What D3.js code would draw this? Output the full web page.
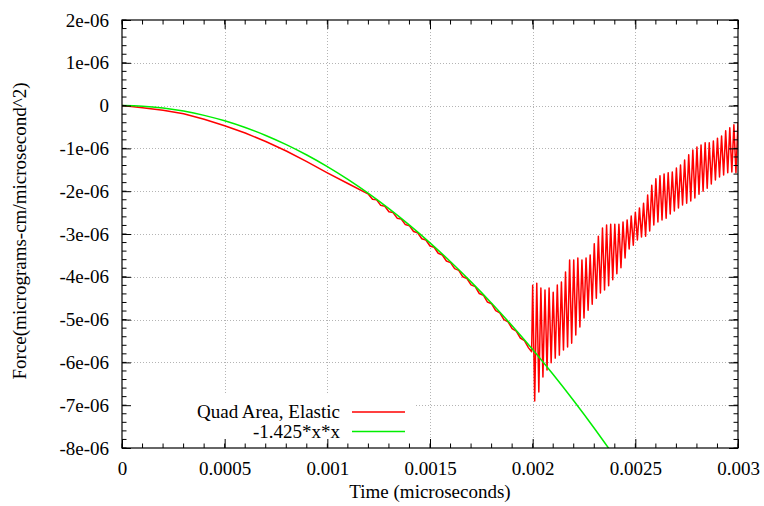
<!DOCTYPE html>
<html>
<head>
<meta charset="utf-8">
<script src="https://cdn.jsdelivr.net/npm/d3@7"></script>
<style>
  body { margin: 0; background: #fff; }
  svg text { font-family: "Liberation Serif", "Times New Roman", Times, "DejaVu Serif", serif; }
</style>
</head>
<body>
<div id="chart"></div>
<script>
// time in units of 1e-3 microseconds, force in units of 1e-6
const xTicks = [0, 0.5, 1, 1.5, 2, 2.5, 3];
const xTickLabels = ["0", "0.0005", "0.001", "0.0015", "0.002", "0.0025", "0.003"];
const yTicks = [2, 1, 0, -1, -2, -3, -4, -5, -6, -7, -8];
const yTickLabels = ["2e-06", "1e-06", "0", "-1e-06", "-2e-06", "-3e-06", "-4e-06", "-5e-06", "-6e-06", "-7e-06", "-8e-06"];

const seriesNames = ["Quad Area, Elastic", "-1.425*x*x"];
const seriesColors = ["#ff0000", "#00ee00"];

// red curve, smooth loading part [time, force]
const quadLoading = [
  [0, 0], [0.1, -0.05], [0.2, -0.11], [0.3, -0.19], [0.4, -0.32], [0.5, -0.47],
  [0.6, -0.64], [0.7, -0.84], [0.8, -1.06], [0.9, -1.31], [1.0, -1.57], [1.1, -1.82],
  [1.2, -2.07], [1.22, -2.19], [1.24, -2.20], [1.26, -2.33], [1.28, -2.35], [1.30, -2.48],
  [1.32, -2.50], [1.34, -2.63], [1.36, -2.65], [1.38, -2.78], [1.40, -2.81], [1.42, -2.94],
  [1.44, -2.97], [1.46, -3.11], [1.48, -3.14], [1.50, -3.28], [1.52, -3.31], [1.54, -3.45],
  [1.56, -3.49], [1.58, -3.63], [1.60, -3.67], [1.62, -3.81], [1.64, -3.85], [1.66, -4.00],
  [1.68, -4.04], [1.70, -4.19], [1.72, -4.23], [1.74, -4.39], [1.76, -4.43], [1.78, -4.59],
  [1.80, -4.63], [1.82, -4.79], [1.84, -4.84], [1.86, -5.00], [1.88, -5.05], [1.90, -5.21],
  [1.92, -5.27], [1.94, -5.43], [1.96, -5.49], [1.98, -5.66], [1.995, -5.75]
];

// red curve, ringing after release (peak, trough, peak, ...)
const quadRinging = [
  [2.00, -4.20], [2.01, -6.90], [2.02, -4.15], [2.03, -6.69], [2.04, -4.26], [2.05, -6.34],
  [2.06, -4.31], [2.07, -6.18], [2.08, -4.26], [2.09, -6.01], [2.10, -4.36], [2.11, -5.90],
  [2.12, -4.19], [2.13, -5.83], [2.14, -4.12], [2.15, -5.71], [2.16, -3.89], [2.17, -5.64],
  [2.18, -3.61], [2.19, -5.55], [2.20, -3.61], [2.21, -5.36], [2.22, -3.56], [2.23, -5.17],
  [2.24, -3.61], [2.25, -4.96], [2.26, -3.56], [2.27, -4.78], [2.28, -3.49], [2.29, -4.64],
  [2.30, -3.23], [2.31, -4.50], [2.32, -3.05], [2.33, -4.38], [2.34, -2.86], [2.35, -4.31],
  [2.36, -2.79], [2.37, -4.21], [2.38, -2.77], [2.39, -4.07], [2.40, -2.77], [2.41, -3.93],
  [2.42, -2.77], [2.43, -3.79], [2.44, -2.72], [2.45, -3.56], [2.46, -2.67], [2.47, -3.35],
  [2.48, -2.58], [2.49, -3.26], [2.50, -2.49], [2.51, -3.14], [2.52, -2.39], [2.53, -3.07],
  [2.54, -2.28], [2.55, -3.05], [2.56, -2.09], [2.57, -2.93], [2.58, -1.86], [2.59, -2.79],
  [2.60, -1.71], [2.61, -2.72], [2.62, -1.64], [2.63, -2.67], [2.64, -1.60], [2.65, -2.63],
  [2.66, -1.57], [2.67, -2.53], [2.68, -1.55], [2.69, -2.46], [2.70, -1.46], [2.71, -2.39],
  [2.72, -1.39], [2.73, -2.32], [2.74, -1.27], [2.75, -2.28], [2.76, -1.15], [2.77, -2.23],
  [2.78, -1.04], [2.79, -2.16], [2.80, -0.97], [2.81, -2.07], [2.82, -0.92], [2.83, -2.00],
  [2.84, -0.87], [2.85, -1.93], [2.86, -0.87], [2.87, -1.83], [2.88, -0.83], [2.89, -1.74],
  [2.90, -0.76], [2.91, -1.67], [2.92, -0.71], [2.93, -1.62], [2.94, -0.59], [2.95, -1.57],
  [2.96, -0.52], [2.97, -1.55], [2.98, -0.45], [2.99, -1.57], [3.00, -0.39]
];

// green reference curve [time, force]
const fitCurve = [
  [0, 0], [0.1, -0.014], [0.2, -0.057], [0.3, -0.128], [0.4, -0.228], [0.5, -0.356],
  [0.6, -0.513], [0.7, -0.698], [0.8, -0.912], [0.9, -1.154], [1.0, -1.425], [1.1, -1.724],
  [1.2, -2.052], [1.3, -2.408], [1.4, -2.793], [1.5, -3.206], [1.6, -3.648], [1.7, -4.118],
  [1.8, -4.617], [1.9, -5.144], [2.0, -5.700], [2.1, -6.284], [2.2, -6.897], [2.3, -7.538],
  [2.4, -8.208]
];

const width = 764, height = 506;
const margin = {top: 20, right: 26, bottom: 58, left: 122};
const plotW = width - margin.left - margin.right,
      plotH = height - margin.top - margin.bottom;
const fontStack = '"Liberation Serif", "Times New Roman", Times, "DejaVu Serif", serif';
const fs = 19;

const svg = d3.select("#chart").append("svg")
  .attr("width", width)
  .attr("height", height);

const x = d3.scaleLinear().domain([0, 3]).range([margin.left, margin.left + plotW]);
const y = d3.scaleLinear().domain([-8, 2]).range([margin.top + plotH, margin.top]);

svg.append("defs").append("clipPath").attr("id", "plotClip")
  .append("rect")
  .attr("x", margin.left).attr("y", margin.top)
  .attr("width", plotW).attr("height", plotH);

//Grid
const grid = svg.append("g").attr("class", "grid")
  .attr("stroke", "#b4b4b4")
  .attr("stroke-width", 1)
  .attr("stroke-dasharray", "1,2");
grid.selectAll(".gx").data(xTicks.slice(1, -1)).enter().append("line")
  .attr("x1", d => Math.round(x(d)) + 0.5).attr("x2", d => Math.round(x(d)) + 0.5)
  .attr("y1", margin.top).attr("y2", margin.top + plotH);
grid.selectAll(".gy").data(yTicks.slice(1, -1)).enter().append("line")
  .attr("y1", d => Math.round(y(d)) + 0.5).attr("y2", d => Math.round(y(d)) + 0.5)
  .attr("x1", margin.left).attr("x2", margin.left + plotW);

//Legend background hides the grid behind it
svg.append("rect")
  .attr("x", margin.left + 1).attr("y", 393)
  .attr("width", 293).attr("height", margin.top + plotH - 394)
  .attr("fill", "#fff");

//Curves
const line = d3.line().x(d => x(d[0])).y(d => y(d[1]));
const curves = svg.append("g").attr("clip-path", "url(#plotClip)").attr("fill", "none");

curves.append("path")
  .attr("d", line(quadLoading.concat(quadRinging)))
  .attr("stroke", seriesColors[0])
  .attr("stroke-width", 1.5)
  .attr("stroke-linejoin", "round");

curves.append("path")
  .attr("d", line.curve(d3.curveNatural)(fitCurve))
  .attr("stroke", seriesColors[1])
  .attr("stroke-width", 1.5);

//Axes: ticks point inward on all four sides
function minorTicks(domain, step) {
  return d3.range(domain[0], domain[1] + step / 2, step);
}
const xMinor = minorTicks([0, 3], 0.1);
const yMinor = minorTicks([-8, 2], 0.2);

svg.append("g")
  .attr("transform", `translate(0,${margin.top + plotH})`)
  .call(d3.axisBottom(x).tickValues(xTicks).tickSize(-9).tickPadding(14)
    .tickFormat((d, i) => xTickLabels[i]))
  .call(g => g.select(".domain").remove());
svg.append("g")
  .attr("transform", `translate(0,${margin.top})`)
  .call(d3.axisTop(x).tickValues(xTicks).tickSize(-9).tickFormat(""))
  .call(g => g.select(".domain").remove());
svg.append("g")
  .attr("transform", `translate(${margin.left},0)`)
  .call(d3.axisLeft(y).tickValues(yTicks).tickSize(-9).tickPadding(13)
    .tickFormat((d, i) => yTickLabels[i]))
  .call(g => g.select(".domain").remove());
svg.append("g")
  .attr("transform", `translate(${margin.left + plotW},0)`)
  .call(d3.axisRight(y).tickValues(yTicks).tickSize(-9).tickFormat(""))
  .call(g => g.select(".domain").remove());
svg.selectAll("g[font-family]").attr("font-family", fontStack);

//Minor ticks
const minor = svg.append("g").attr("stroke", "#000").attr("stroke-width", 1);
[margin.top + plotH, margin.top].forEach((py, side) => {
  minor.selectAll(".mx" + side).data(xMinor).enter().append("line")
    .attr("x1", d => x(d)).attr("x2", d => x(d))
    .attr("y1", py).attr("y2", side ? py + 4.5 : py - 4.5);
});
[margin.left, margin.left + plotW].forEach((px, side) => {
  minor.selectAll(".my" + side).data(yMinor).enter().append("line")
    .attr("y1", d => y(d)).attr("y2", d => y(d))
    .attr("x1", px).attr("x2", side ? px - 4.5 : px + 4.5);
});

svg.selectAll(".tick text")
  .style("font-family", fontStack)
  .style("font-size", fs + "px")
  .attr("fill", "#000");
svg.selectAll(".tick line").attr("stroke", "#000");

//Frame
svg.append("rect")
  .attr("x", margin.left).attr("y", margin.top)
  .attr("width", plotW).attr("height", plotH)
  .attr("fill", "none")
  .attr("stroke", "#000")
  .attr("stroke-width", 1.2);

//Axis titles
svg.append("text")
  .attr("x", margin.left + plotW / 2)
  .attr("y", 498)
  .attr("text-anchor", "middle")
  .style("font-family", fontStack)
  .style("font-size", fs + "px")
  .text("Time (microseconds)");

svg.append("text")
  .attr("transform", "translate(26,231) rotate(-90)")
  .attr("text-anchor", "middle")
  .style("font-family", fontStack)
  .style("font-size", fs + "px")
  .text("Force(micrograms-cm/microsecond^2)");

//Legend
const legend = svg.append("g").attr("class", "legend");
const legendRows = legend.selectAll("g").data(seriesNames).enter().append("g")
  .attr("transform", (d, i) => `translate(0,${412 + i * 19.5})`);
legendRows.append("text")
  .attr("x", 340)
  .attr("dy", "0.33em")
  .attr("text-anchor", "end")
  .style("font-family", fontStack)
  .style("font-size", fs + "px")
  .text(d => d);
legendRows.append("line")
  .attr("x1", 352).attr("x2", 405)
  .attr("stroke", (d, i) => seriesColors[i])
  .attr("stroke-width", 1.5);
</script>
</body>
</html>
